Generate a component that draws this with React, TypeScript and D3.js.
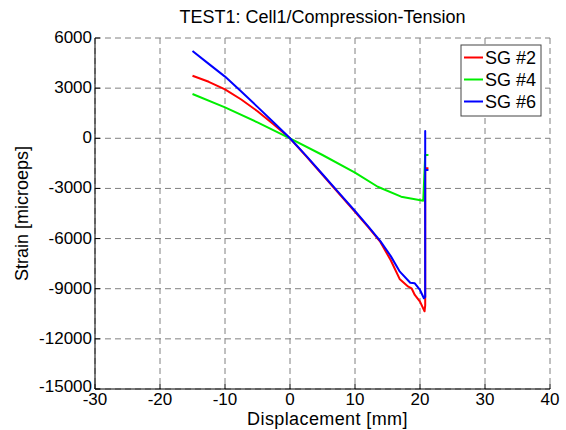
import * as d3 from 'd3';

// tick values
const xTicks = [-30, -20, -10, 0, 10, 20, 30, 40];
const yTicks = [-15000, -12000, -9000, -6000, -3000, 0, 3000, 6000];

// SG #2 (red)
const sg2X = [-15, -12.5, -10, -7.5, -5, -2.5, 0, 2.5, 5, 7.5, 10, 12, 13.9, 15.5, 16.9, 18.2, 18.7, 19.2, 20, 20.7, 20.8, 20.8, 21.3];
const sg2Y = [3745, 3380, 2930, 2320, 1620, 830, 0, -1080, -2180, -3300, -4400, -5300, -6200, -7300, -8440, -8880, -8976, -9375, -9775, -10350, -10000, -1795, -1795];

// SG #4 (green)
const sg4X = [-15, -10, -5, 0, 5, 10, 13.5, 17.1, 20.5, 20.8, 21.3];
const sg4Y = [2650, 1850, 950, 0, -1000, -2050, -2900, -3494, -3733, -1000, -1000];

// SG #6 (blue)
const sg6X = [-15, -12.5, -10, -7.5, -5, -2.5, 0, 2.5, 5, 7.5, 10, 12, 13.9, 15.5, 16.9, 18.5, 19.2, 20, 20.6, 20.8, 20.8, 20.8, 21.3];
const sg6Y = [5223, 4450, 3690, 2800, 1880, 950, 0, -1050, -2150, -3250, -4350, -5250, -6150, -7050, -7980, -8640, -8676, -9076, -9573, -9500, 437, -1897, -1897];

const seriesNames = ['SG #2', 'SG #4', 'SG #6'];
const seriesColors = ['#ff0000', '#00ee00', '#0000ff'];

export default function App() {
  const width = 566, height = 430;
  const margin = { top: 38, right: 16, bottom: 41, left: 95 };
  const x = d3.scaleLinear().domain([-30, 40]).range([margin.left, width - margin.right]);
  const y = d3.scaleLinear().domain([-15000, 6000]).range([height - margin.bottom, margin.top]);
  const font = "'Liberation Sans', Arial, sans-serif";

  const line = d3.line<[number, number]>().x(d => x(d[0])).y(d => y(d[1]));
  const series = [
    sg2X.map((v, i) => [v, sg2Y[i]] as [number, number]),
    sg4X.map((v, i) => [v, sg4Y[i]] as [number, number]),
    sg6X.map((v, i) => [v, sg6Y[i]] as [number, number]),
  ];

  const x0 = x(-30), x1 = x(40), y0 = y(-15000), y1 = y(6000);
  const legX = 461, legY = 45;

  return (
    <svg width={width} height={height} style={{ position: 'absolute', left: 0, top: 0, background: '#fff' }} fontFamily={font}>
      <rect x={0} y={0} width={width} height={height} fill="#fff" />
      {/* grid */}
      {xTicks.map(t => (
        <line key={'gx' + t} x1={x(t)} x2={x(t)} y1={y1} y2={y0} stroke="#808080" strokeDasharray="6,4" />
      ))}
      {yTicks.map(t => (
        <line key={'gy' + t} x1={x0} x2={x1} y1={y(t)} y2={y(t)} stroke="#808080" strokeDasharray="6,4" />
      ))}
      {/* axes */}
      <line x1={x0} x2={x0} y1={y1} y2={y0} stroke="#000" />
      <line x1={x0} x2={x1} y1={y0} y2={y0} stroke="#000" />
      {xTicks.map(t => (
        <g key={'tx' + t}>
          <line x1={x(t)} x2={x(t)} y1={y0} y2={y0 - 5} stroke="#000" />
          <text x={x(t)} y={y0 + 16} textAnchor="middle" fontSize={17}>{t}</text>
        </g>
      ))}
      {yTicks.map(t => (
        <g key={'ty' + t}>
          <line x1={x0} x2={x0 + 5} y1={y(t)} y2={y(t)} stroke="#000" />
          <text x={x0 - 3} y={y(t) + (t === -15000 ? 3 : 5)} textAnchor="end" fontSize={17}>{t}</text>
        </g>
      ))}
      {/* data */}
      {series.map((s, i) => (
        <path key={'s' + i} d={line(s) || ''} fill="none" stroke={seriesColors[i]} strokeWidth={2} strokeLinejoin="round" />
      ))}
      {/* title & labels */}
      <text x={(x0 + x1) / 2} y={23} textAnchor="middle" fontSize={18}>TEST1: Cell1/Compression-Tension</text>
      <text x={(x0 + x1) / 2 + 5} y={425} textAnchor="middle" fontSize={18} letterSpacing={0.4}>Displacement [mm]</text>
      <text transform={`translate(28,${(y0 + y1) / 2}) rotate(-90)`} textAnchor="middle" fontSize={18}>Strain [microeps]</text>
      {/* legend */}
      <rect x={legX} y={legY} width={80} height={71} fill="#fff" stroke="#444" />
      {seriesNames.map((n, i) => (
        <g key={'l' + i}>
          <line x1={legX + 3} x2={legX + 22} y1={legY + 12.5 + i * 22} y2={legY + 12.5 + i * 22} stroke={seriesColors[i]} strokeWidth={2} />
          <text x={legX + 24} y={legY + 19 + i * 22} fontSize={18}>{n}</text>
        </g>
      ))}
    </svg>
  );
}
